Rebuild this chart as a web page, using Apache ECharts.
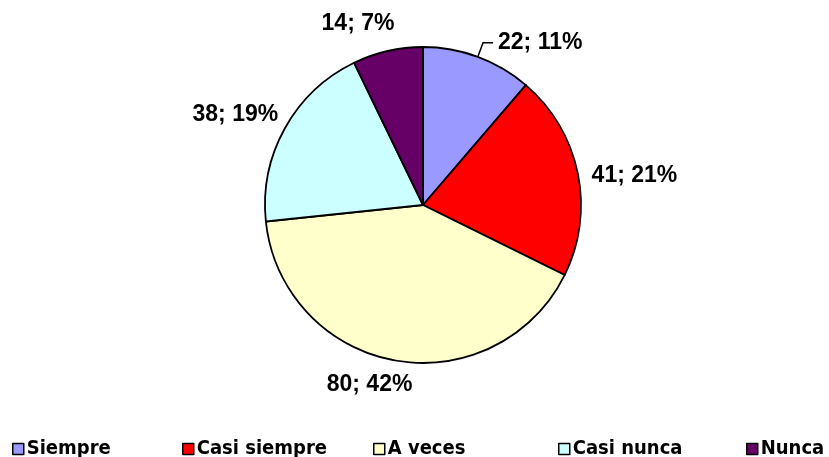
<!DOCTYPE html>
<html>
<head>
<meta charset="utf-8">
<script src="https://cdn.jsdelivr.net/npm/echarts@6/dist/echarts.min.js"></script>
<style>
  html, body { margin: 0; padding: 0; background: #fff; }
  #chart { width: 829px; height: 457px; }
</style>
</head>
<body>
<div id="chart"></div>
<script>
const categories = ['Siempre', 'Casi siempre', 'A veces', 'Casi nunca', 'Nunca']
const values = [22, 41, 80, 38, 14]
const percents = ['11%', '21%', '42%', '19%', '7%']
const colors = ['#9999FF', '#FF0000', '#FFFFCC', '#CCFFFF', '#660066']

// legend item left edges and small nudges for the data labels (Excel-like placement)
const legendLeft = [12, 182, 373, 558, 746]
const labelNudge = [[0, 0], [-5, 4], [28, 14], [11, -9], [18, -18]]

const chart = echarts.init(document.getElementById('chart'))

const legends = categories.map((name, i) => ({
  data: [name],
  left: legendLeft[i],
  top: 439,
  padding: 0,
  itemWidth: 11,
  itemHeight: 11,
  itemGap: 0,
  icon: 'rect',
  selectedMode: false,
  itemStyle: { borderColor: '#000', borderWidth: 1.5 },
  textStyle: {
    fontFamily: '"Liberation Sans Narrow", "DejaVu Sans Condensed", sans-serif',
    fontWeight: 'bold',
    fontSize: 20,
    color: '#000',
    padding: [0, 0, 0, -2]
  }
}))

chart.setOption({
  animation: false,
  legend: legends,
  series: [{
    type: 'pie',
    center: [423, 205],
    radius: 158,
    startAngle: 90,
    clockwise: true,
    avoidLabelOverlap: false,
    itemStyle: { borderColor: '#000', borderWidth: 1.8 },
    label: {
      show: true,
      position: 'outside',
      formatter: p => p.value + '; ' + percents[p.dataIndex],
      fontFamily: '"Liberation Sans", Arial, sans-serif',
      fontWeight: 'bold',
      fontSize: 23,
      color: '#000'
    },
    labelLine: { show: false, length: 10, length2: 4 },
    labelLayout: p => ({ dx: labelNudge[p.dataIndex][0], dy: labelNudge[p.dataIndex][1] }),
    data: categories.map((name, i) => ({
      name,
      value: values[i],
      itemStyle: { color: colors[i] },
      labelLine: i === 0
        ? { show: true, length: 15, length2: 10, lineStyle: { color: '#000', width: 1.5 } }
        : undefined
    }))
  }]
})
</script>
</body>
</html>
